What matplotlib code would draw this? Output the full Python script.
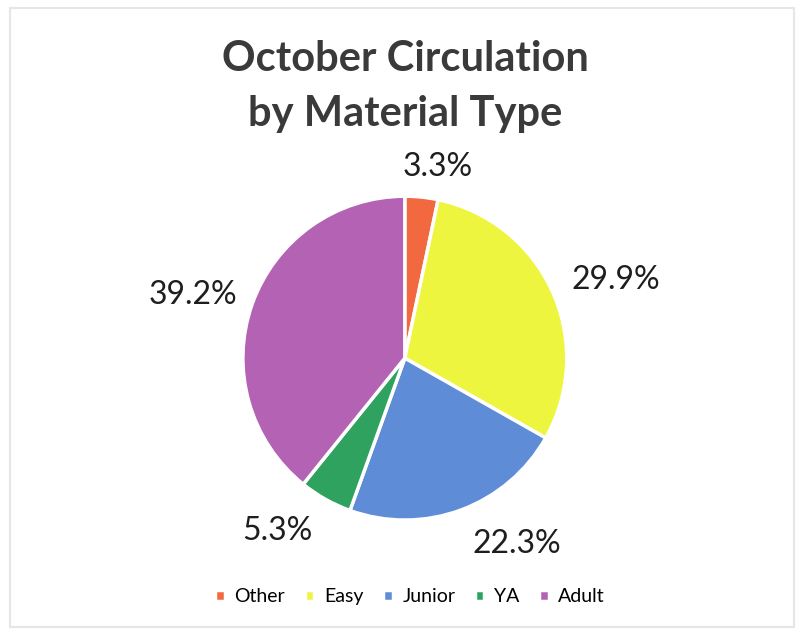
import matplotlib.pyplot as plt

# --- DATA ---
categories = ["Other", "Easy", "Junior", "YA", "Adult"]
shares = [3.3, 29.9, 22.3, 5.3, 39.2]
colors = ["#F2683F", "#EEF53F", "#5E8CD6", "#2EA25E", "#B463B4"]

# label placement (in pie radii, relative to centre), like Excel's best fit
label_pos = [(0.20, 1.18), (1.30, 0.48), (0.69, -1.15), (-0.79, -1.07), (-1.31, 0.39)]

plt.rcParams['font.family'] = ['Lato', 'DejaVu Sans']

fig = plt.figure(figsize=(8.04, 6.35), dpi=100)
fig.patch.set_facecolor("white")

# faint border like the screenshot
fig.add_artist(plt.Rectangle((0.012, 0.012), 0.976, 0.976, transform=fig.transFigure,
                             fill=False, edgecolor="#e6e6e6", linewidth=1.5))

ax = fig.add_axes([0.302, 0.181, 0.403, 0.510])
wedges, _ = ax.pie(shares, colors=colors, startangle=90, counterclock=False,
                   wedgeprops=dict(edgecolor="white", linewidth=2.5))
for share, (lx, ly) in zip(shares, label_pos):
    ax.text(lx, ly, f"{share:.1f}%", ha="center", va="center", fontsize=23, color="#1e1e1e")
ax.set_xlim(-1, 1)
ax.set_ylim(-1, 1)
ax.set_aspect("equal")

fig.text(0.504, 0.864, "October Circulation\nby Material Type", ha="center", va="center",
         fontsize=30, fontweight="bold", color="#3a3a3a", linespacing=1.55)

fig.legend(wedges, categories, loc="center", bbox_to_anchor=(0.51, 0.06), ncol=5,
           frameon=False, fontsize=14, handlelength=0.5, handleheight=0.5,
           handletextpad=0.5, columnspacing=1.0)

fig.savefig("out.png", dpi=100)
